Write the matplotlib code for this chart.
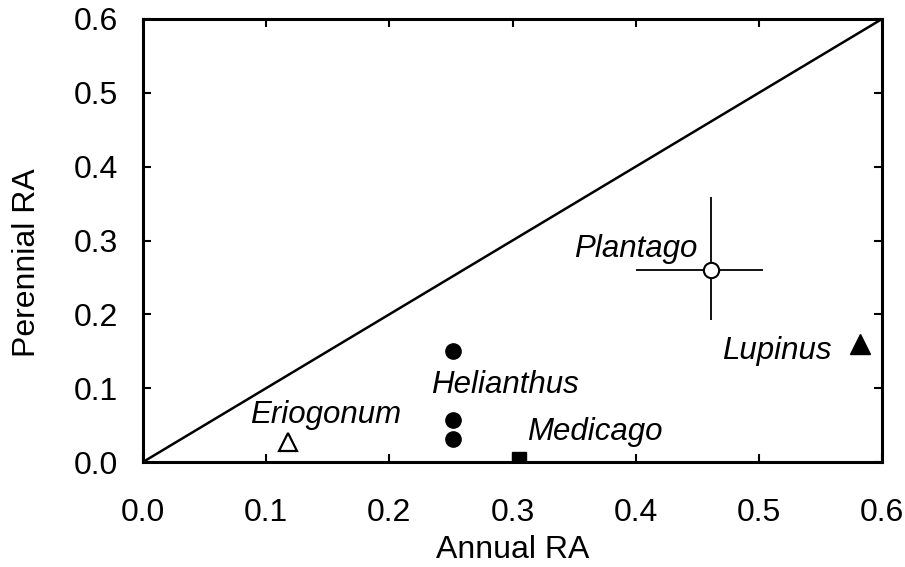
import matplotlib.pyplot as plt

plt.rcParams['font.family'] = ['Liberation Sans', 'DejaVu Sans']

# Data
helianthus_x = [0.252, 0.252, 0.252]
helianthus_y = [0.150, 0.057, 0.031]
eriogonum_x, eriogonum_y = 0.118, 0.027
medicago_x, medicago_y = 0.305, 0.004
lupinus_x, lupinus_y = 0.582, 0.160
plantago_x, plantago_y = 0.461, 0.260
plantago_xerr = [[0.061], [0.042]]
plantago_yerr = [[0.068], [0.099]]

fig = plt.figure(figsize=(9.05, 5.67), dpi=100)
ax = fig.add_axes([143/905, 105/567, 739/905, 443/567])

# 1:1 line
ax.plot([0, 0.6], [0, 0.6], color='black', lw=1.8)

ax.errorbar(plantago_x, plantago_y, xerr=plantago_xerr, yerr=plantago_yerr,
            fmt='o', mfc='white', mec='black', ecolor='black', ms=11, mew=1.5,
            elinewidth=1.3, capsize=0, zorder=3)
ax.plot(helianthus_x, helianthus_y, 'o', color='black', ms=11)
ax.plot(eriogonum_x, eriogonum_y, '^', mfc='white', mec='black', ms=13, mew=1.6)
ax.plot(medicago_x, medicago_y, 's', color='black', ms=10, clip_on=True)
ax.plot(lupinus_x, lupinus_y, '^', color='black', ms=15)

lab = dict(fontsize=22.5, style='italic', va='center')
ax.text(0.450, 0.288, 'Plantago', ha='right', **lab)
ax.text(0.559, 0.150, 'Lupinus', ha='right', **lab)
ax.text(0.294, 0.104, 'Helianthus', ha='center', **lab)
ax.text(0.148, 0.064, 'Eriogonum', ha='center', **lab)
ax.text(0.312, 0.041, 'Medicago', ha='left', **lab)

ax.set_xlim(0, 0.6)
ax.set_ylim(0, 0.6)
ticks = [0.0, 0.1, 0.2, 0.3, 0.4, 0.5, 0.6]
ax.set_xticks(ticks)
ax.set_yticks(ticks)
ax.set_xticklabels(['%.1f' % t for t in ticks])
ax.set_yticklabels(['%.1f' % t for t in ticks])
ax.tick_params(direction='in', length=6, width=1.5, labelsize=23,
               top=True, right=True)
ax.tick_params(axis='x', pad=26)
ax.tick_params(axis='y', pad=18)
for s in ax.spines.values():
    s.set_linewidth(2.2)

ax.set_xlabel('Annual RA', fontsize=23, va='center')
ax.xaxis.set_label_coords(0.5, -0.198)
ax.set_ylabel('Perennial RA', fontsize=23, va='center')
ax.yaxis.set_label_coords(-0.157, 0.449)

fig.savefig('out.png', dpi=100)
